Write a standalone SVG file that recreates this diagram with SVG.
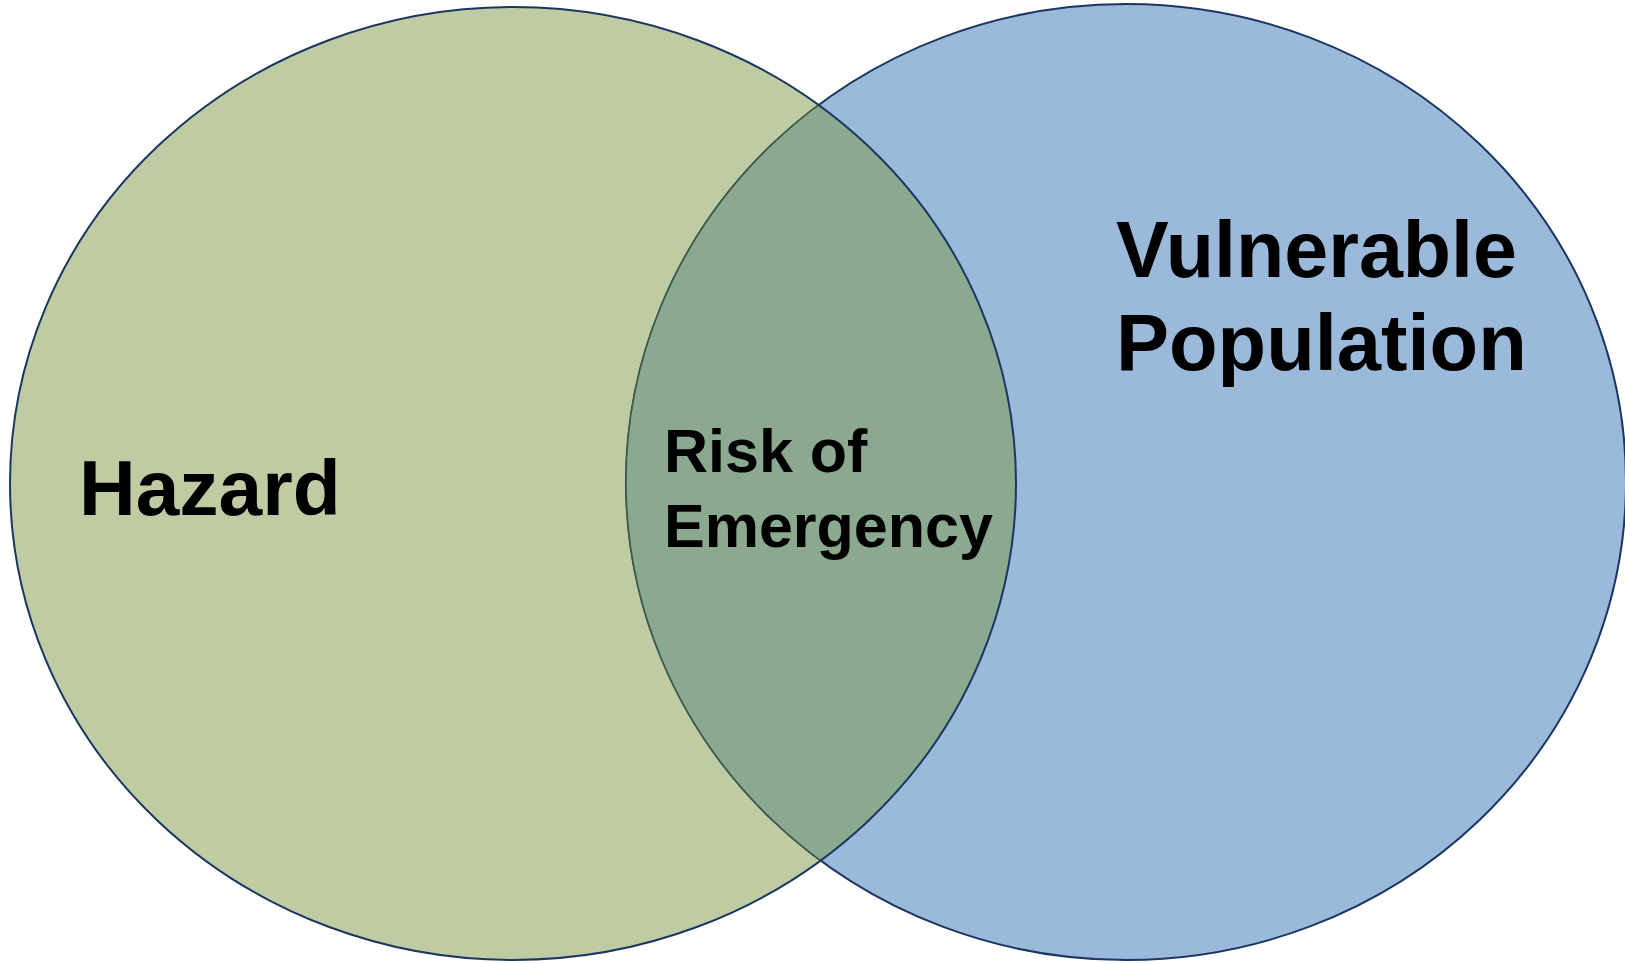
<svg xmlns="http://www.w3.org/2000/svg" width="1625" height="963" viewBox="0 0 1625 963">
<style>
.lbl{font-family:"Liberation Sans",Arial,sans-serif;font-weight:bold;fill:#000}
.edge{fill:none;stroke:#1b3660;stroke-width:2}
</style>
<defs>
<clipPath id="clipL"><ellipse cx="513" cy="483.5" rx="503" ry="476.5"/></clipPath>
</defs>
<rect width="1625" height="963" fill="#fff"/>
<g id="hazard">
<ellipse cx="513" cy="483.5" rx="503" ry="476.5" fill="#bfcca3"/>
</g>
<g id="population">
<ellipse cx="1126" cy="482" rx="500" ry="478" fill="#9bb9db"/>
<ellipse cx="1126" cy="482" rx="500" ry="478" class="edge"/>
</g>
<g id="risk">
<ellipse cx="1126" cy="482" rx="500" ry="478" fill="#8aa98e" stroke="#3f5e48" stroke-width="1.5" clip-path="url(#clipL)"/>
</g>
<ellipse cx="513" cy="483.5" rx="503" ry="476.5" class="edge"/>
<text class="lbl" x="79" y="515" font-size="78.5">Hazard</text>
<text class="lbl" x="1116" y="277" font-size="79">Vulnerable</text>
<text class="lbl" x="1116" y="370" font-size="79.5">Population</text>
<text class="lbl" x="664" y="472" font-size="61">Risk of</text>
<text class="lbl" x="664" y="547" font-size="61">Emergency</text>
</svg>
